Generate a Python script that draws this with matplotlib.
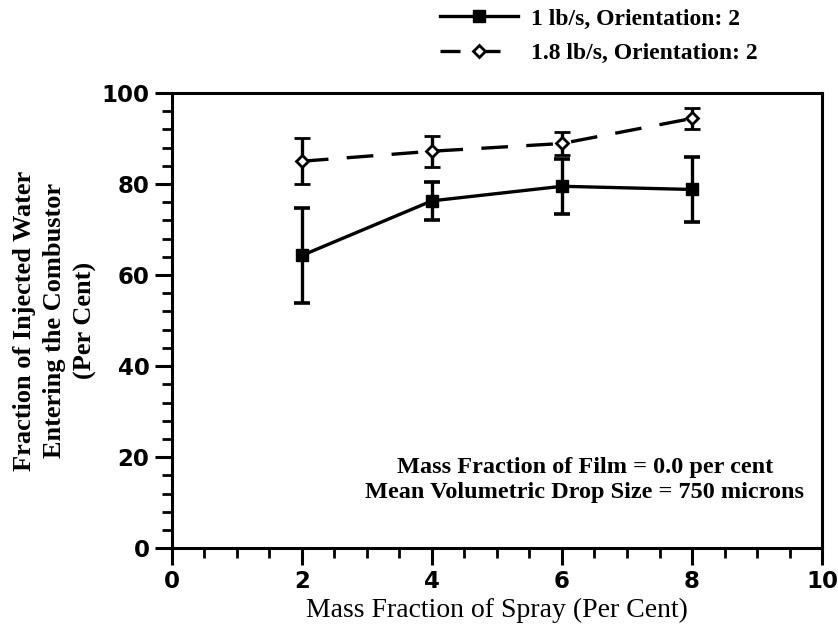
import matplotlib
matplotlib.use("Agg")
import matplotlib.pyplot as plt
from matplotlib.ticker import MultipleLocator
from matplotlib.lines import Line2D

# Mass fraction of spray (per cent)
spray = [2, 4, 6, 8]

# 1 lb/s, orientation 2
frac_1lb = [64.3, 76.3, 79.5, 78.8]
err_1lb = [10.5, 4.2, 6.0, 7.2]

# 1.8 lb/s, orientation 2
frac_18lb = [85.0, 87.2, 88.9, 94.4]
err_18lb = [5.0, 3.4, 2.5, 2.4]

labels = ["1 lb/s, Orientation: 2", "1.8 lb/s, Orientation: 2"]
x_ticks = [0, 2, 4, 6, 8, 10]
y_ticks = [0, 20, 40, 60, 80, 100]

serif = "Liberation Serif"
sans = "DejaVu Sans"

fig = plt.figure(figsize=(8.38, 6.28), dpi=100)
ax = fig.add_axes([0.205, 0.127, 0.776, 0.725])

ax.errorbar(spray, frac_1lb, yerr=err_1lb, color="black", lw=2.4,
            marker="s", ms=9, mfc="black", mec="black",
            elinewidth=2.4, capsize=6, capthick=2.6, zorder=3)
ax.errorbar(spray, frac_18lb, yerr=err_18lb, color="black", lw=2.4,
            ls=(0, (8, 5.5)), marker="D", ms=6.5, mfc="white", mec="black",
            mew=2, elinewidth=2.4, capsize=6, capthick=2.6, zorder=4)

ax.set_xlim(0, 10)
ax.set_ylim(0, 100)
ax.set_xticks(x_ticks)
ax.set_yticks(y_ticks)
ax.xaxis.set_minor_locator(MultipleLocator(0.5))
ax.yaxis.set_minor_locator(MultipleLocator(4))
ax.tick_params(which="major", direction="out", length=12, width=2.2,
               labelsize=16.5, pad=4)
ax.tick_params(which="minor", direction="out", length=7, width=2)
for lab in ax.get_xticklabels() + ax.get_yticklabels():
    lab.set_fontfamily(sans)
    lab.set_fontweight("bold")
for sp in ax.spines.values():
    sp.set_linewidth(2.2)

ax.set_xlabel("Mass Fraction of Spray (Per Cent)", fontfamily=serif,
              fontsize=20, labelpad=3)
ax.set_ylabel("Fraction of Injected Water\nEntering the Combustor\n(Per Cent)",
              fontfamily=serif, fontsize=19, fontweight="bold",
              linespacing=1.42, labelpad=3)

ax.text(0.635, 0.15, "Mass Fraction of Film = 0.0 per cent\n"
        "Mean Volumetric Drop Size = 750 microns",
        transform=ax.transAxes, ha="center", va="center",
        fontfamily=serif, fontsize=17.5, fontweight="bold", linespacing=1.25)

handles = [
    Line2D([], [], color="black", lw=2.4, marker="s", ms=8, mfc="black"),
    Line2D([], [], color="black", lw=2.4, ls=(0, (6, 6)), marker="D", ms=6,
           mfc="white", mew=2),
]
fig.legend(handles, labels, loc="upper left", bbox_to_anchor=(0.51, 1.008),
           frameon=False, prop={"family": serif, "size": 17, "weight": "bold"},
           handlelength=3.3, handletextpad=0.55, labelspacing=0.55,
           borderaxespad=0.15)

fig.savefig("out.png", dpi=100)
